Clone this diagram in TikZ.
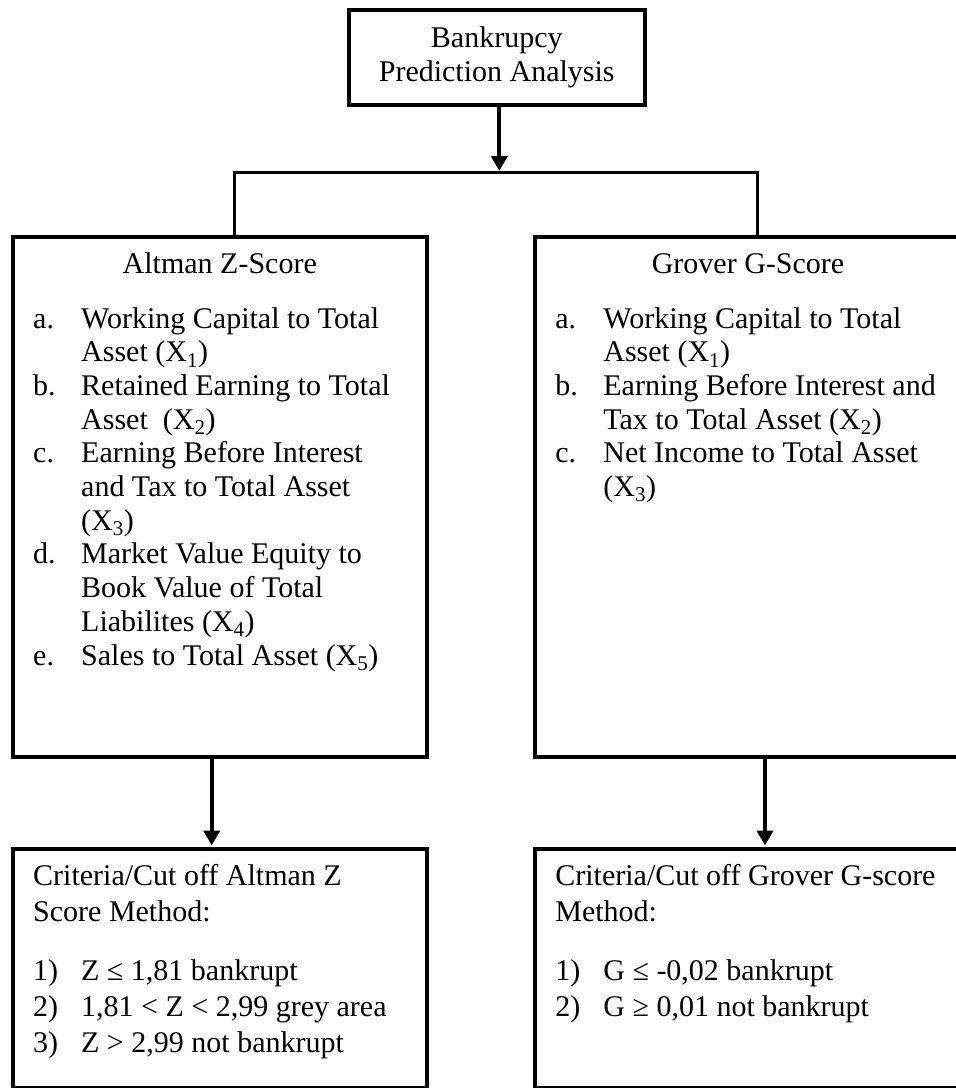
\documentclass[tikz,border=0pt]{standalone}
\usepackage{fontspec}
\setmainfont{Liberation Serif}
\usepackage{tikz}
\usetikzlibrary{arrows.meta, positioning}
\newcommand\xsub[1]{(X\textsubscript{#1})}

\begin{document}
\begin{tikzpicture}[x=1pt, y=-1pt,
  every node/.style={font=\fontsize{30}{34}\selectfont},
  box/.style={draw, line width=4pt, inner sep=0pt},
  txt/.style={anchor=base west, inner sep=0pt},
  arr/.style={-{Triangle[width=16pt,length=15pt]}, line width=4pt, shorten >=1.5pt}]
\useasboundingbox (0,0) rectangle (956,1088);
\clip (0,0) rectangle (956,1088);
\node[box, minimum width=295.5pt, minimum height=94.5pt, align=center] (bpa) at (496.75,57.25) {Bankrupcy\\Prediction Analysis};
\node[box, minimum width=414.5pt, minimum height=520pt] (altman) at (219.75,497) {};
\node[box, minimum width=426.6pt, minimum height=520pt] (grover) at (748,497) {};
\node[box, minimum width=414.5pt, minimum height=239pt] (altcrit) at (219.75,968.5) {};
\node[box, minimum width=426.6pt, minimum height=239pt] (grocrit) at (748,968.5) {};
\node[anchor=base] (altmantitle) at ([yshift=-38pt]altman.north) {Altman Z-Score};
\node[anchor=base] (grovertitle) at ([yshift=-38pt]grover.north) {Grover G-Score};
\node[txt, font=\fontsize{30}{33.7}\selectfont] (altmanlist) at ([xshift=22.5pt, yshift=-93pt]altman.north west) {%
\begin{tabular}[t]{@{}p{48pt}@{}l@{}}
a. & Working Capital to Total\\
   & Asset \xsub{1}\\
b. & Retained Earning to Total\\
   & Asset\ \ \xsub{2}\\
c. & Earning Before Interest\\
   & and Tax to Total Asset\\
   & \xsub{3}\\
d. & Market Value Equity to\\
   & Book Value of Total\\
   & Liabilites \xsub{4}\\
e. & Sales to Total Asset \xsub{5}
\end{tabular}};
\node[txt, font=\fontsize{30}{33.7}\selectfont] (groverlist) at ([xshift=22.5pt, yshift=-93pt]grover.north west) {%
\begin{tabular}[t]{@{}p{48pt}@{}l@{}}
a. & Working Capital to Total\\
   & Asset \xsub{1}\\
b. & Earning Before Interest and\\
   & Tax to Total Asset \xsub{2}\\
c. & Net Income to Total Asset\\
   & \xsub{3}
\end{tabular}};
\node[txt, font=\fontsize{30}{36}\selectfont] (altcritlist) at ([xshift=22.5pt, yshift=-38pt]altcrit.north west) {%
\begin{tabular}[t]{@{}p{48pt}@{}l@{}}
\multicolumn{2}{@{}l@{}}{Criteria/Cut off Altman Z}\\
\multicolumn{2}{@{}l@{}}{Score Method:}\\[23pt]
1) & Z ≤ 1,81 bankrupt\\
2) & 1,81 < Z < 2,99 grey area\\
3) & Z > 2,99 not bankrupt
\end{tabular}};
\node[txt, font=\fontsize{30}{36}\selectfont] (grocritlist) at ([xshift=22.5pt, yshift=-38pt]grocrit.north west) {%
\begin{tabular}[t]{@{}p{48pt}@{}l@{}}
\multicolumn{2}{@{}l@{}}{Criteria/Cut off Grover G-score}\\
\multicolumn{2}{@{}l@{}}{Method:}\\[23pt]
1) & G ≤ -0,02 bankrupt\\
2) & G ≥ 0,01 not bankrupt
\end{tabular}};
\coordinate (split) at (499.3,172.5);
\draw[arr] (bpa.south -| split) -- (split);
\draw[line width=2.7pt] ([xshift=15pt]altman.north) |- (split) -| ([xshift=9.3pt]grover.north);
\draw[arr] ([xshift=-8pt]altman.south) -- ([xshift=-8pt]altcrit.north);
\draw[arr] ([xshift=17pt]grover.south) -- ([xshift=17pt]grocrit.north);
\end{tikzpicture}
\end{document}
